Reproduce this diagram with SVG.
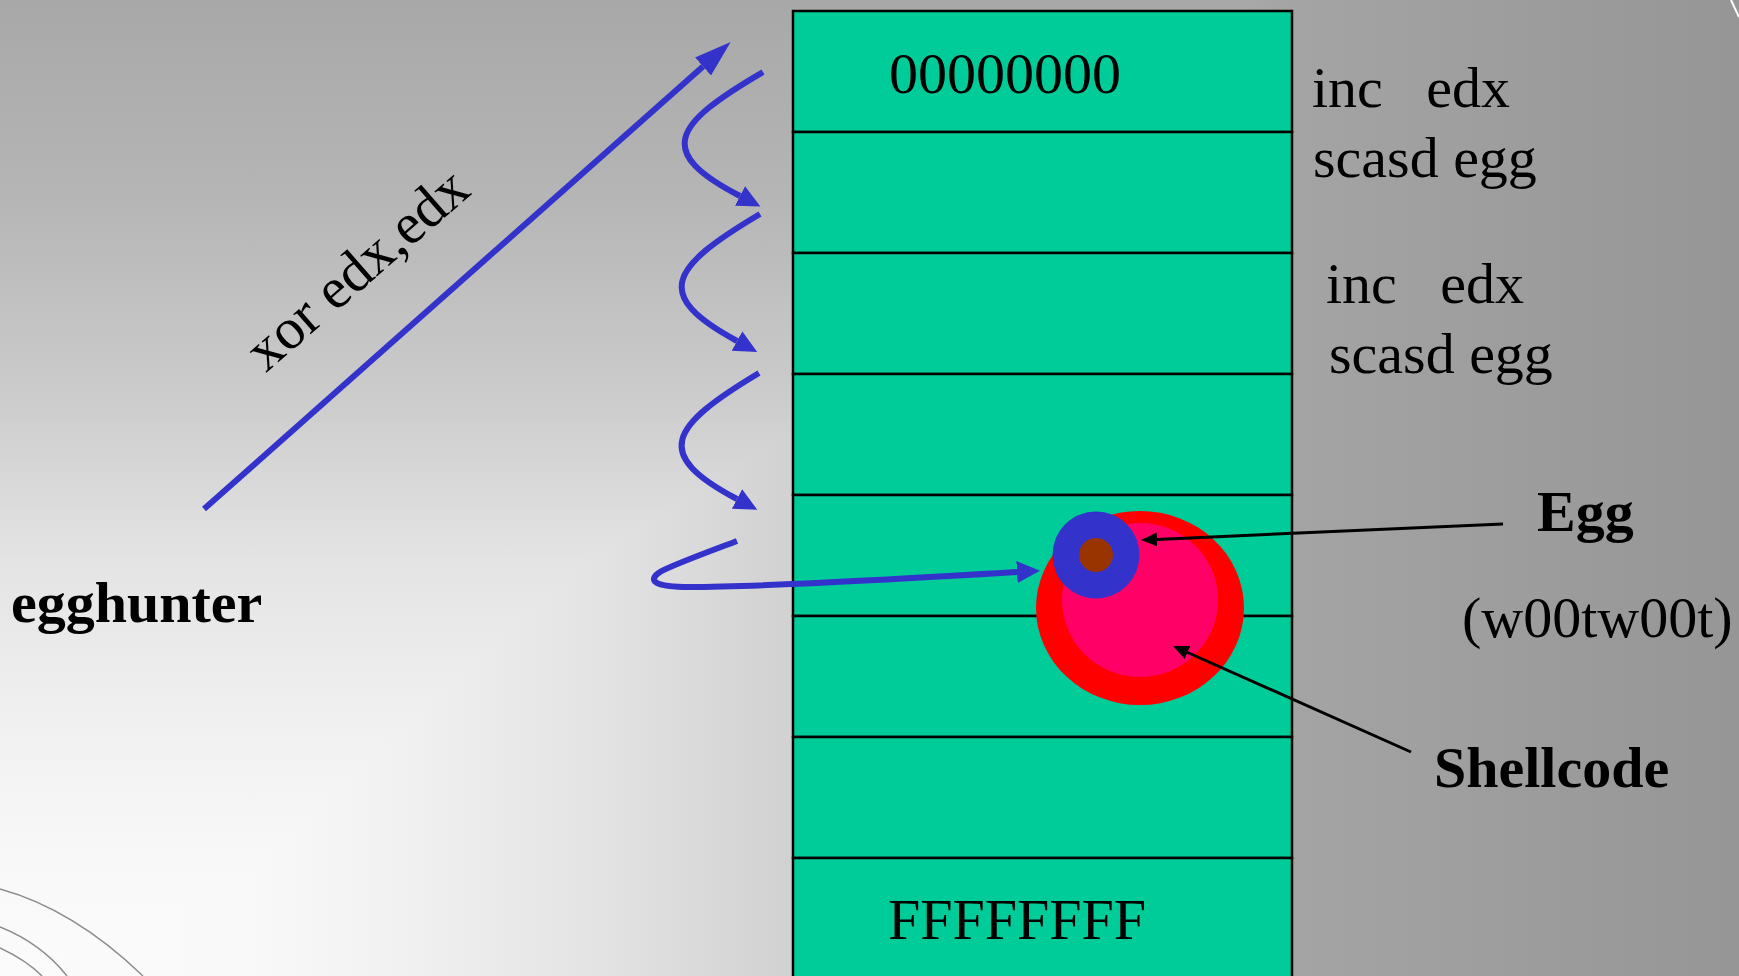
<svg xmlns="http://www.w3.org/2000/svg" width="1739" height="976" viewBox="0 0 1739 976">
<defs>
<linearGradient id="gv" x1="0" y1="0" x2="0" y2="976" gradientUnits="userSpaceOnUse">
<stop offset="0" stop-color="#a8a8a8"/>
<stop offset="0.2" stop-color="#b5b5b5"/>
<stop offset="0.4" stop-color="#cbcbcb"/>
<stop offset="0.575" stop-color="#e4e4e4"/>
<stop offset="0.75" stop-color="#f1f1f1"/>
<stop offset="0.9" stop-color="#f9f9f9"/>
<stop offset="1" stop-color="#fbfbfb"/>
</linearGradient>
<linearGradient id="gh" x1="0" y1="0" x2="1739" y2="0" gradientUnits="userSpaceOnUse">
<stop offset="0" stop-color="#fbfbfb"/>
<stop offset="0.14" stop-color="#f9f9f9"/>
<stop offset="0.23" stop-color="#f1f1f1"/>
<stop offset="0.345" stop-color="#e3e3e3"/>
<stop offset="0.45" stop-color="#d2d2d2"/>
<stop offset="0.743" stop-color="#a4a4a4"/>
<stop offset="1" stop-color="#969696"/>
</linearGradient>
<marker id="arrowLong" markerUnits="userSpaceOnUse" markerWidth="38" markerHeight="26" refX="0" refY="12" orient="auto">
<path d="M0,0 L37,12 L0,24 z" fill="#3333cc"/>
</marker>
<marker id="arrowShort" markerUnits="userSpaceOnUse" markerWidth="24" markerHeight="24" refX="0" refY="11" orient="auto">
<path d="M0,0 L23,11 L0,22 z" fill="#3333cc"/>
</marker>
<marker id="arrowBlack" markerUnits="userSpaceOnUse" markerWidth="18" markerHeight="16" refX="0" refY="7" orient="auto">
<path d="M0,0 L16,7 L0,14 z" fill="#000"/>
</marker>
</defs>
<style>
.cell{fill:#00cc99;stroke:#000;stroke-width:2.5}
.t{font-family:"Liberation Serif","Times New Roman",serif;font-size:58px;fill:#000}
.b{font-weight:bold}
.blue{fill:none;stroke:#3333cc;stroke-width:6}
.blk{fill:none;stroke:#000;stroke-width:3}
.deco{fill:none;stroke:#8c8c8c;stroke-width:1.5}
</style>
<g id="background">
<rect x="0" y="0" width="1739" height="976" fill="url(#gv)"/>
<rect x="0" y="0" width="1739" height="976" fill="url(#gh)" style="mix-blend-mode:darken"/>
<path class="deco" d="M0,889 C40,900 90,925 143,976"/>
<path class="deco" d="M0,927 C25,937 48,952 67,976"/>
<path class="deco" d="M0,948 C15,955 30,964 42,976"/>
<path d="M1731,0 L1739,17" stroke="#ffffff" stroke-width="2" fill="none"/>
</g>
<g id="memory">
<g id="row0"><rect class="cell" x="793" y="11" width="499" height="121"/><text class="t" x="889" y="93">00000000</text></g>
<g id="row1"><rect class="cell" x="793" y="132" width="499" height="121"/></g>
<g id="row2"><rect class="cell" x="793" y="253" width="499" height="121"/></g>
<g id="row3"><rect class="cell" x="793" y="374" width="499" height="121"/></g>
<g id="row4"><rect class="cell" x="793" y="495" width="499" height="121"/></g>
<g id="row5"><rect class="cell" x="793" y="616" width="499" height="121"/></g>
<g id="row6"><rect class="cell" x="793" y="737" width="499" height="121"/></g>
<g id="row7"><rect class="cell" x="793" y="858" width="499" height="125"/><text class="t" x="888" y="939">FFFFFFFF</text></g>
</g>
<g id="shellcode">
<ellipse cx="1140" cy="608" rx="104" ry="97" fill="#ff0000"/>
<ellipse cx="1140" cy="600" rx="78" ry="77" fill="#ff0066"/>
</g>
<g id="egg">
<circle cx="1096" cy="555" r="43.5" fill="#3333cc"/>
<circle cx="1096" cy="555" r="17" fill="#993300"/>
</g>
<g id="labels">
<text class="t" x="1312" y="107" xml:space="preserve" style="white-space:pre">inc   edx</text>
<text class="t" x="1313" y="177">scasd egg</text>
<text class="t" x="1326" y="303" xml:space="preserve" style="white-space:pre">inc   edx</text>
<text class="t" x="1329" y="373">scasd egg</text>
<text class="t b" x="1537" y="531">Egg</text>
<text class="t" x="1462" y="637">(w00tw00t)</text>
<text class="t b" x="1434" y="787">Shellcode</text>
<text class="t b" x="11" y="622">egghunter</text>
<text class="t" transform="translate(266,373) rotate(-41)">xor edx,edx</text>
</g>
<g id="connectors">
<path class="blue" d="M204,509 L703,66.5" marker-end="url(#arrowLong)"/>
<path class="blue" d="M763,72 C672,125 655,152 740,196" marker-end="url(#arrowShort)"/>
<path class="blue" d="M760,214 C669,268 652,295 737,341" marker-end="url(#arrowShort)"/>
<path class="blue" d="M759,373 C669,427 652,454 737,499" marker-end="url(#arrowShort)"/>
<path class="blue" d="M737,541 C700,555 670,566 660,572 C648,580 652,587 690,587 C760,587 900,579 1017,572" marker-end="url(#arrowShort)"/>
<path class="blk" d="M1503,524 L1157,539.4" marker-end="url(#arrowBlack)"/>
<path class="blk" d="M1411,752 L1187.6,652.5" marker-end="url(#arrowBlack)"/>
</g>
</svg>
